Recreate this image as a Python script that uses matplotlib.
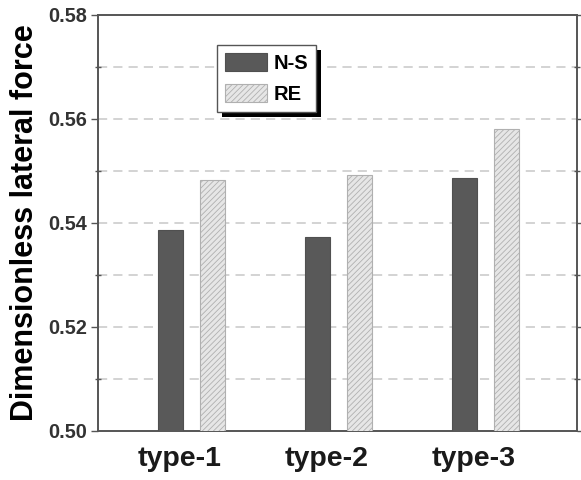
import numpy as np
import matplotlib
matplotlib.use("Agg")
import matplotlib.pyplot as plt
from matplotlib.ticker import MultipleLocator
from matplotlib.patches import Rectangle

#DATA
categories = ["type-1", "type-2", "type-3"]
ns_values = [0.5387, 0.5373, 0.5487]
re_values = [0.5483, 0.5492, 0.5581]

plt.rcParams['font.family'] = ['Liberation Sans', 'DejaVu Sans']
plt.rcParams['hatch.color'] = '#9a9a9a'
plt.rcParams['hatch.linewidth'] = 0.6

fig = plt.figure(figsize=(5.81, 4.80), dpi=100)
ax = fig.add_axes([98 / 581, 1 - 431 / 480, (577 - 98) / 581, (431 - 15) / 480])

x = np.arange(len(categories))
w = 0.17
off = 0.143

#bars
ax.bar(x - off, ns_values, w, color='#595959', edgecolor='#505050', linewidth=0.8,
       label='N-S', zorder=3)
ax.bar(x + off, re_values, w, color='#e6e6e6', edgecolor='#b0b0b0', linewidth=0.8,
       hatch='//////', label='RE', zorder=3)

ax.set_xlim(-0.636, 2.622)
ax.set_ylim(0.50, 0.58)

#ticks
ax.yaxis.set_major_locator(MultipleLocator(0.02))
ax.yaxis.set_minor_locator(MultipleLocator(0.01))
ax.set_yticks([0.50, 0.52, 0.54, 0.56, 0.58])
ax.set_yticklabels(['0.50', '0.52', '0.54', '0.56', '0.58'], fontsize=14.3,
                   fontweight='bold', color='#333333')
ax.set_xticks(x - 0.078)
ax.set_xticklabels(categories, fontsize=20.5, fontweight='bold', color='#1a1a1a')
ax.tick_params(axis='x', length=0, pad=11)
ax.tick_params(axis='y', which='major', direction='out', length=5, width=1.0,
               color='#555555', pad=3)
ax.tick_params(axis='y', which='minor', direction='inout', length=4, width=1.0,
               color='#555555')
ax.tick_params(axis='y', which='both', right=True)

#grid lines every 0.01
for yv in np.arange(0.51, 0.58, 0.01):
    ax.axhline(yv, color='#c8c8c8', linestyle=(0, (6, 4)), linewidth=1.1, zorder=1)

for s in ax.spines.values():
    s.set_color('#555555')
    s.set_linewidth(1.4)

ax.set_ylabel('Dimensionless lateral force', fontsize=22, fontweight='bold',
              labelpad=6)

#legend
leg = ax.legend(loc='upper left', bbox_to_anchor=((217 - 98) / 479, 1 - (45 - 15) / 416),
                prop={'weight': 'bold', 'size': 14.5}, frameon=True, framealpha=1.0,
                fancybox=False, handlelength=2.1, handleheight=1.0, borderpad=0.4,
                labelspacing=0.55, handletextpad=0.3, borderaxespad=0)
leg.get_frame().set_edgecolor('#555555')
leg.get_frame().set_facecolor('white')
leg.get_frame().set_linewidth(1.0)
leg.set_zorder(6)

#shadow behind legend box
fig.canvas.draw()
bb = leg.get_window_extent()
ax.add_artist(Rectangle((bb.x0 + 5, bb.y0 - 5), bb.width, bb.height, transform=None,
                        facecolor='black', edgecolor='none', zorder=5))

fig.savefig('out.png', dpi=100)
